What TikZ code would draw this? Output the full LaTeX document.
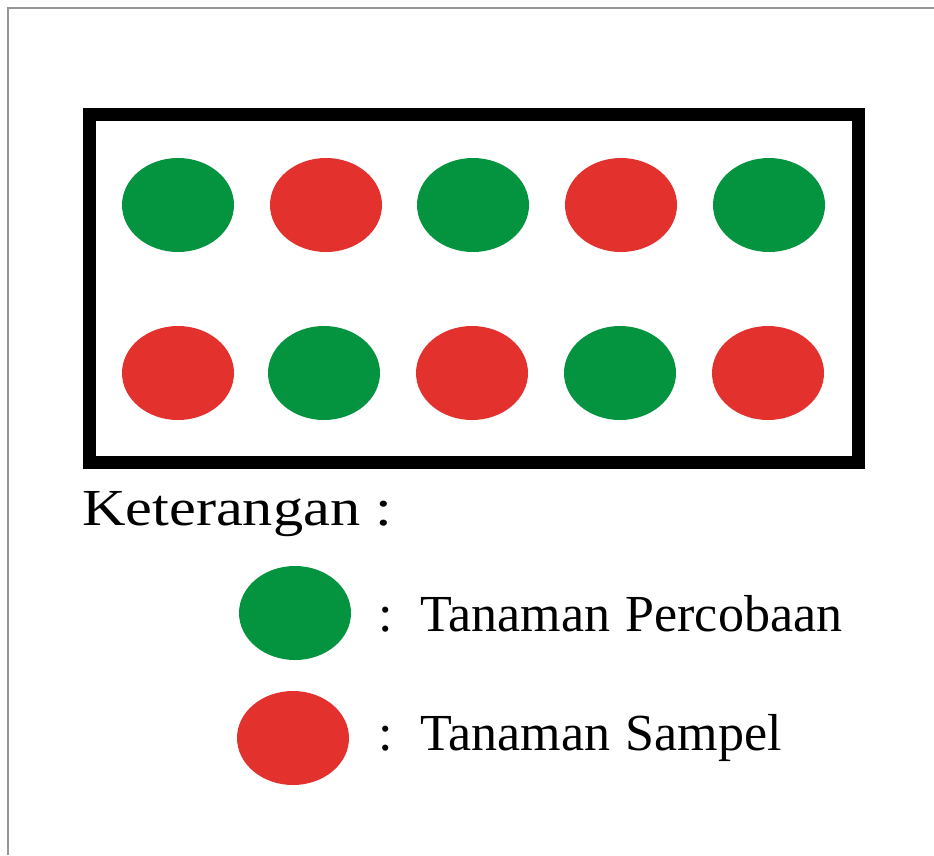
\documentclass[tikz,border=0pt]{standalone}
\usepackage{fontspec}
\setmainfont{Liberation Serif}
\definecolor{plantgreen}{RGB}{4,148,63}
\definecolor{plantred}{RGB}{227,50,45}
\definecolor{framegray}{RGB}{150,150,150}
\tikzset{
  plant/.style={ellipse, minimum width=112pt, minimum height=94pt, inner sep=0pt},
  trial/.style={plant, fill=plantgreen},
  sample/.style={plant, fill=plantred},
  lbl/.style={anchor=base west, inner sep=0pt, font=\fontsize{52}{60}\selectfont}
}
\usetikzlibrary{shapes.geometric}
\begin{document}
\begin{tikzpicture}[x=1pt,y=-1pt]
\useasboundingbox[fill=white] (0,0) rectangle (934,855);
\draw[framegray, line width=2pt] (8,855) -- (8,8) -- (934,8);
\node[draw=black, line width=13pt, minimum width=769pt, minimum height=348pt, inner sep=0pt] (field) at (473.5,288) {};
% row 1
\node[trial]  (a1) at (178,205) {};
\node[sample] (a2) at (326,205) {};
\node[trial]  (a3) at (473,205) {};
\node[sample] (a4) at (621,205) {};
\node[trial]  (a5) at (769,205) {};
% row 2
\node[sample] (b1) at (178,373) {};
\node[trial]  (b2) at (324,373) {};
\node[sample] (b3) at (472,373) {};
\node[trial]  (b4) at (620,373) {};
\node[sample] (b5) at (768,373) {};
% legend
\node[lbl, xscale=1.16, transform shape] (ket) at (82,525) {Keterangan :};
\node[trial]  (lg) at (295,613) {};
\node[sample] (lr) at (293,738) {};
\node[lbl] (cg) at (378,631) {:};
\node[lbl] (tg) at (420,631) {Tanaman\hspace{0.05em} Percobaan};
\node[lbl] (cr) at (378,750) {:};
\node[lbl] (tr) at (420,750) {Tanaman\hspace{0.05em} Sampel};
\end{tikzpicture}
\end{document}
